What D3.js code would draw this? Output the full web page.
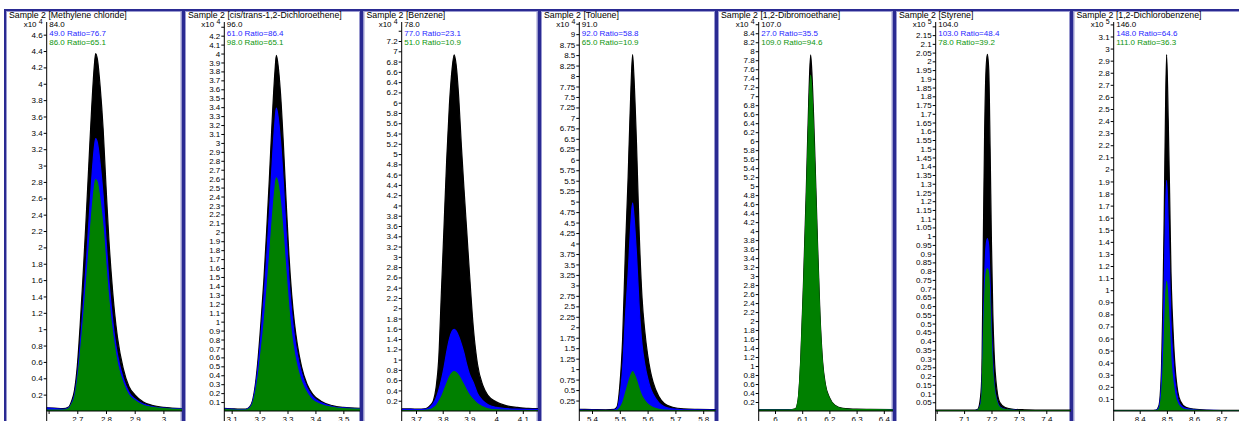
<!DOCTYPE html>
<html><head><meta charset="utf-8">
<script src="https://cdn.jsdelivr.net/npm/d3@7"></script>
<style>
body{margin:0;background:#fff;overflow:hidden}
svg{display:block}
text{font-family:"Liberation Sans",Arial,sans-serif}
</style>
</head><body>
<svg id="c" width="1239" height="421"></svg>
<script>
// ---------- text content ----------
const titles = ["Sample 2 [Methylene chloride]","Sample 2 [cis/trans-1,2-Dichloroethene]","Sample 2 [Benzene]","Sample 2 [Toluene]","Sample 2 [1,2-Dibromoethane]","Sample 2 [Styrene]","Sample 2 [1,2-Dichlorobenzene]"];
const exponents = ["4","4","4","4","4","5","5"];
const targetIons = ["84.0","96.0","78.0","91.0","107.0","104.0","146.0"];
const qualifier1 = ["49.0 Ratio=76.7","61.0 Ratio=86.4","77.0 Ratio=23.1","92.0 Ratio=58.8","27.0 Ratio=35.5","103.0 Ratio=48.4","148.0 Ratio=64.6"];
const qualifier2 = ["86.0 Ratio=65.1","98.0 Ratio=65.1","51.0 Ratio=10.9","65.0 Ratio=10.9","109.0 Ratio=94.6","78.0 Ratio=39.2","111.0 Ratio=36.3"];

// ---------- axes ----------
const yMax = [4.755, 4.353, 7.57, 9.29, 8.65, 2.225, 3.22];
const yTickStep = [0.2, 0.1, 0.2, 0.25, 0.2, 0.05, 0.1];
const xDomains = [[2.5934,3.0648],[3.0736,3.5596],[3.6464,4.1569],[5.3543,5.8442],[5.9401,6.4338],[6.9964,7.4901],[8.3044,8.8055]];
const xTickValues = [[2.6,2.7,2.8,2.9,3.0],[3.1,3.2,3.3,3.4,3.5],[3.7,3.8,3.9,4.0,4.1],[5.4,5.5,5.6,5.7,5.8],[6.0,6.1,6.2,6.3,6.4],[7.0,7.1,7.2,7.3,7.4],[8.4,8.5,8.6,8.7]];
const xTickLabels = [["","2.7","2.8","2.9","3"],["3.1","3.2","3.3","3.4","3.5"],["3.7","3.8","3.9","4","4.1"],["5.4","5.5","5.6","5.7","5.8"],["6","6.1","6.2","6.3","6.4"],["","7.1","7.2","7.3","7.4"],["8.4","8.5","8.6","8.7"]];

// ---------- series (retention time, abundance x10^n) ----------
const rt1 = [2.59,2.62,2.65,2.67,2.68,2.69,2.70,2.71,2.72,2.73,2.74,2.75,2.76,2.764,2.77,2.78,2.79,2.80,2.81,2.82,2.83,2.84,2.86,2.88,2.90,2.93,2.96,3.00,3.07];
const target1 = [0.04,0.035,0.03,0.05,0.12,0.25,0.55,1.05,1.65,2.3,3.0,3.7,4.25,4.37,4.3,3.95,3.45,2.75,2.1,1.6,1.2,0.9,0.52,0.3,0.2,0.11,0.07,0.045,0.03];
const qual1a = [0.04,0.03,0.02,0.04,0.09,0.19,0.42,0.8,1.26,1.75,2.29,2.82,3.24,3.33,3.28,3.01,2.63,2.1,1.6,1.22,0.91,0.69,0.4,0.23,0.15,0.085,0.055,0.035,0.025];
const qual1b = [0.01,0.01,0.01,0.03,0.08,0.16,0.36,0.68,1.07,1.49,1.94,2.4,2.75,2.83,2.79,2.56,2.24,1.78,1.36,1.04,0.78,0.58,0.34,0.19,0.13,0.07,0.045,0.03,0.02];

const rt2 = [3.07,3.10,3.13,3.15,3.165,3.175,3.185,3.195,3.205,3.215,3.225,3.235,3.245,3.255,3.26,3.265,3.275,3.285,3.295,3.305,3.315,3.325,3.335,3.35,3.37,3.39,3.42,3.46,3.50,3.56];
const target2 = [0.03,0.025,0.02,0.02,0.05,0.12,0.3,0.6,1.0,1.45,2.0,2.6,3.25,3.8,3.98,3.9,3.55,3.0,2.35,1.75,1.3,0.98,0.75,0.5,0.3,0.19,0.11,0.06,0.04,0.03];
const qual2a = [0.025,0.02,0.017,0.017,0.043,0.1,0.26,0.51,0.85,1.24,1.7,2.22,2.77,3.24,3.39,3.32,3.02,2.56,2.0,1.49,1.11,0.83,0.64,0.43,0.26,0.16,0.094,0.05,0.034,0.025];
const qual2b = [0.015,0.012,0.01,0.01,0.033,0.08,0.2,0.39,0.66,0.95,1.31,1.71,2.13,2.49,2.61,2.56,2.33,1.97,1.54,1.15,0.85,0.64,0.49,0.33,0.2,0.12,0.072,0.04,0.026,0.02];

const rt3 = [3.64,3.68,3.71,3.73,3.745,3.755,3.765,3.775,3.785,3.795,3.805,3.815,3.825,3.835,3.843,3.85,3.86,3.87,3.88,3.89,3.90,3.915,3.93,3.95,3.97,4.0,4.04,4.08,4.12,4.16];
const target3 = [0.04,0.04,0.035,0.04,0.07,0.12,0.2,0.45,1.0,2.3,3.6,4.9,5.95,6.65,6.93,6.75,6.1,5.15,4.3,3.5,2.7,1.6,0.92,0.5,0.3,0.18,0.1,0.07,0.05,0.045];
const qual3a = [0.03,0.03,0.025,0.03,0.05,0.09,0.15,0.25,0.4,0.6,0.85,1.15,1.4,1.55,1.59,1.56,1.45,1.3,1.12,0.9,0.72,0.55,0.34,0.2,0.12,0.07,0.045,0.035,0.03,0.03];
const qual3b = [0.01,0.01,0.01,0.01,0.02,0.03,0.06,0.1,0.18,0.27,0.4,0.53,0.66,0.74,0.765,0.75,0.69,0.6,0.5,0.4,0.31,0.22,0.14,0.08,0.04,0.02,0.015,0.01,0.01,0.01];

const rt4 = [5.35,5.40,5.45,5.48,5.49,5.50,5.51,5.52,5.53,5.54,5.546,5.55,5.56,5.57,5.58,5.59,5.60,5.61,5.62,5.64,5.66,5.69,5.73,5.78,5.85];
const target4 = [0.04,0.035,0.03,0.04,0.1,0.6,1.7,3.8,5.6,7.7,8.51,8.1,6.4,4.2,2.7,1.9,1.35,0.95,0.68,0.35,0.18,0.09,0.05,0.04,0.035];
const qual4a = [0.025,0.02,0.018,0.023,0.06,0.35,0.99,2.22,3.27,4.5,4.97,4.73,3.74,2.45,1.58,1.11,0.79,0.55,0.4,0.2,0.1,0.05,0.03,0.025,0.02];
const qual4b = [0.01,0.01,0.01,0.01,0.015,0.07,0.19,0.42,0.65,0.86,0.94,0.9,0.74,0.52,0.35,0.25,0.17,0.12,0.08,0.04,0.02,0.01,0.01,0.01,0.01];

const rt5 = [5.94,6.0,6.05,6.075,6.085,6.095,6.105,6.115,6.125,6.131,6.135,6.145,6.155,6.165,6.175,6.185,6.2,6.22,6.25,6.3,6.35,6.44];
const target5 = [0.03,0.03,0.03,0.05,0.25,1.2,2.9,4.9,7.1,7.92,7.6,6.0,4.0,2.2,1.1,0.6,0.3,0.13,0.06,0.04,0.035,0.03];
const qual5a = [0.02,0.02,0.02,0.03,0.09,0.43,1.03,1.74,2.52,2.81,2.7,2.13,1.42,0.78,0.39,0.21,0.11,0.05,0.03,0.02,0.02,0.02];
const qual5b = [0.02,0.02,0.02,0.04,0.23,1.12,2.72,4.6,6.7,7.47,7.17,5.66,3.77,2.07,1.03,0.56,0.28,0.12,0.05,0.03,0.03,0.02];

const rt6 = [6.99,7.05,7.10,7.14,7.15,7.16,7.165,7.17,7.175,7.18,7.185,7.19,7.195,7.20,7.205,7.21,7.22,7.23,7.25,7.28,7.32,7.40,7.50];
const target6 = [0.005,0.005,0.005,0.005,0.01,0.08,0.22,0.95,1.6,1.95,2.04,1.95,1.5,0.95,0.55,0.32,0.12,0.05,0.02,0.01,0.007,0.005,0.005];
const qual6a = [0.003,0.003,0.003,0.003,0.005,0.04,0.11,0.46,0.77,0.94,0.986,0.94,0.72,0.46,0.27,0.15,0.06,0.025,0.01,0.005,0.003,0.003,0.003];
const qual6b = [0.002,0.002,0.002,0.002,0.004,0.03,0.09,0.38,0.64,0.78,0.814,0.78,0.6,0.38,0.22,0.13,0.05,0.02,0.008,0.004,0.002,0.002,0.002];

const rt7 = [8.30,8.35,8.40,8.44,8.46,8.47,8.475,8.48,8.485,8.49,8.495,8.499,8.505,8.51,8.515,8.52,8.525,8.53,8.54,8.55,8.57,8.60,8.65,8.70,8.81];
const target7 = [0.005,0.005,0.005,0.005,0.008,0.04,0.12,0.35,0.85,1.6,2.5,2.95,2.4,1.8,1.15,0.8,0.55,0.37,0.16,0.08,0.03,0.015,0.008,0.006,0.005];
const qual7a = [0.003,0.003,0.003,0.003,0.005,0.026,0.08,0.23,0.55,1.04,1.62,1.91,1.55,1.16,0.74,0.52,0.36,0.24,0.1,0.05,0.02,0.01,0.005,0.004,0.003];
const qual7b = [0.002,0.002,0.002,0.002,0.003,0.015,0.044,0.13,0.31,0.58,0.91,1.075,0.87,0.66,0.42,0.29,0.2,0.13,0.06,0.03,0.01,0.005,0.003,0.002,0.002];

// ---------- layout ----------
const boxLeft  = [5, 184, 362.5, 540, 717, 895, 1072.5];
const boxRight = [182.5, 361, 538.5, 716, 893.5, 1071, 1252];
const axisX    = [46.7, 224.3, 401.7, 579.3, 758.7, 935.7, 1113.7];
const plotRight= [182, 360, 538, 715.5, 893, 1071, 1250];
const plotTop = 22, plotBottom = 411, boxTop = 10, boxBottom = 440;

const seriesColors = ["#000000","#0000ff","#008000"];
const textColors = ["#000000","#1f1fff","#0c960c"];

const rts = [rt1,rt2,rt3,rt4,rt5,rt6,rt7];
const targets = [target1,target2,target3,target4,target5,target6,target7];
const quals1 = [qual1a,qual2a,qual3a,qual4a,qual5a,qual6a,qual7a];
const quals2 = [qual1b,qual2b,qual3b,qual4b,qual5b,qual6b,qual7b];

const svg = d3.select("#c");
const defs = svg.append("defs");

titles.forEach((title, i) => {
  const g = svg.append("g");
  // panel frame
  g.append("rect").attr("x", boxLeft[i]).attr("y", boxTop)
    .attr("width", boxRight[i]-boxLeft[i]).attr("height", boxBottom-boxTop)
    .attr("fill","#fff").attr("stroke","#2a2a92").attr("stroke-width",2);
  g.append("rect").attr("x", boxLeft[i]+1.5).attr("y", boxTop+1.5)
    .attr("width", boxRight[i]-boxLeft[i]-3).attr("height", boxBottom-boxTop-3)
    .attr("fill","none").attr("stroke","#9a9ad0").attr("stroke-width",1);

  const x = d3.scaleLinear().domain(xDomains[i]).range([axisX[i], plotRight[i]]);
  const y = d3.scaleLinear().domain([0, yMax[i]]).range([plotBottom, plotTop]);

  const clipId = "clip" + i;
  defs.append("clipPath").attr("id", clipId).append("rect")
    .attr("x", axisX[i]).attr("y", plotTop-2)
    .attr("width", plotRight[i]-axisX[i]).attr("height", plotBottom-plotTop+2);

  const rows = rts[i].map((t, k) => ({t, a: targets[i][k], b: quals1[i][k], c: quals2[i][k]}));
  const plot = g.append("g").attr("clip-path", `url(#${clipId})`);
  ["a","b","c"].forEach((key, s) => {
    const area = d3.area().x(d => x(d.t)).y0(y(0)).y1(d => y(d[key])).curve(d3.curveMonotoneX);
    const line = d3.line().x(d => x(d.t)).y(d => y(d[key])).curve(d3.curveMonotoneX);
    plot.append("path").datum(rows).attr("d", area).attr("fill", seriesColors[s]);
    plot.append("path").datum(rows).attr("d", line).attr("fill","none")
      .attr("stroke", seriesColors[s]).attr("stroke-width", 1.2);
  });

  // y axis
  const step = yTickStep[i];
  const yt = d3.range(step, yMax[i] + 1e-9, step).map(v => +v.toFixed(3));
  const yAxis = d3.axisLeft(y).tickValues(yt).tickSize(3).tickPadding(1)
    .tickFormat(v => y(v) < 33 ? "" : d3.format("~g")(v));
  const ya = g.append("g").attr("transform", `translate(${axisX[i]},0)`).call(yAxis);
  ya.select(".domain").remove();
  ya.selectAll("text").attr("font-size", 8).attr("fill","#000").attr("font-family","Liberation Sans, Arial, sans-serif");
  ya.selectAll("line").attr("stroke","#000");
  g.append("line").attr("x1", axisX[i]).attr("x2", axisX[i]).attr("y1", plotTop).attr("y2", 425)
    .attr("stroke","#000").attr("stroke-width",1);

  // x axis
  const xAxis = d3.axisBottom(x).tickValues(xTickValues[i]).tickSize(3).tickPadding(2)
    .tickFormat((v, k) => xTickLabels[i][k]);
  const xa = g.append("g").attr("transform", `translate(0,${plotBottom})`).call(xAxis);
  xa.select(".domain").remove();
  xa.selectAll("text").attr("font-size", 8).attr("fill","#000").attr("font-family","Liberation Sans, Arial, sans-serif");
  xa.selectAll("line").attr("stroke","#000");
  g.append("line").attr("x1", axisX[i]).attr("x2", plotRight[i]).attr("y1", plotBottom).attr("y2", plotBottom)
    .attr("stroke","#000").attr("stroke-width",1);

  // exponent label
  const ex = g.append("text").attr("x", axisX[i]-4).attr("y", 26.5).attr("text-anchor","end")
    .attr("font-size", 8).attr("fill","#000");
  ex.append("tspan").text("x10 ");
  ex.append("tspan").attr("font-size", 7).attr("dy", -3).text(exponents[i]);

  // title
  g.append("text").attr("x", boxLeft[i]+4).attr("y", 18.3).attr("font-size", 8.75).attr("fill","#000").text(title);

  // ion labels
  [targetIons[i], qualifier1[i], qualifier2[i]].forEach((txt, s) => {
    g.append("text").attr("x", axisX[i]+2.5).attr("y", 27.3 + s*8.7)
      .attr("font-size", 8).attr("fill", textColors[s]).text(txt);
  });
});
</script>
</body></html>
